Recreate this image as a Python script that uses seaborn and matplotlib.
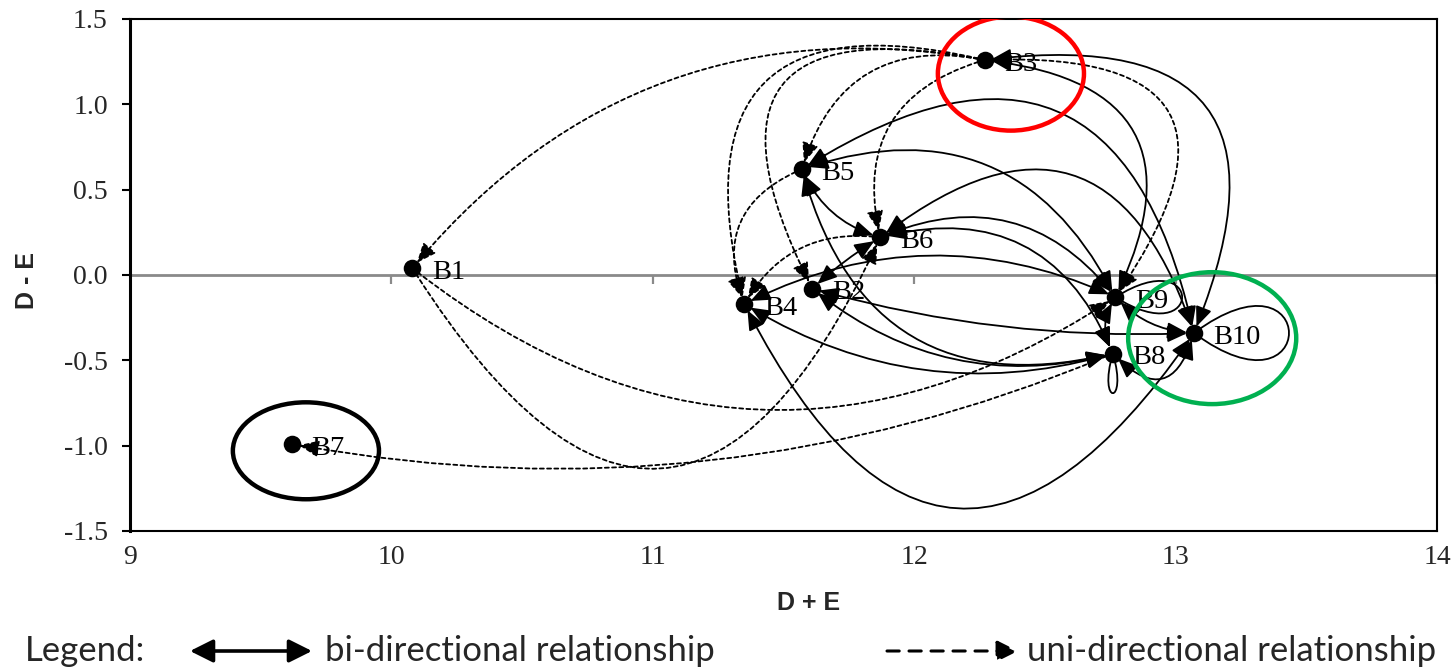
import matplotlib
matplotlib.use("Agg")
import numpy as np
import pandas as pd
import seaborn as sns
import matplotlib.pyplot as plt
from matplotlib.patches import FancyArrowPatch, Ellipse, PathPatch
from matplotlib.path import Path

# ---- data -------------------------------------------------------------
nodes = ["B1", "B2", "B3", "B4", "B5", "B6", "B7", "B8", "B9", "B10"]
d_plus_e = [10.08, 11.61, 12.27, 11.35, 11.57, 11.87, 9.62, 12.76, 12.77, 13.07]
d_minus_e = [0.04, -0.08, 1.26, -0.17, 0.62, 0.22, -0.99, -0.46, -0.13, -0.34]

# two-way influences (solid, heads at both ends)
bi_edges = [("B3", "B9"), ("B3", "B10"), ("B5", "B10"), ("B5", "B9"), ("B5", "B6"),
            ("B5", "B8"), ("B6", "B10"), ("B6", "B9"), ("B6", "B8"), ("B6", "B2"),
            ("B2", "B10"), ("B2", "B8"), ("B4", "B9"), ("B4", "B8"), ("B4", "B10"),
            ("B9", "B10"), ("B8", "B10"), ("B8", "B9")]
# one-way influences (dashed, source -> target)
uni_edges = [("B3", "B1"), ("B3", "B2"), ("B3", "B4"), ("B3", "B5"), ("B3", "B6"),
             ("B3", "B9"), ("B5", "B4"), ("B6", "B4"), ("B1", "B9"), ("B1", "B6"),
             ("B8", "B7")]
self_loops = ["B8", "B9", "B10"]

x_ticks = [9, 10, 11, 12, 13, 14]
y_ticks = [-1.5, -1.0, -0.5, 0.0, 0.5, 1.0, 1.5]

# ---- curvature of each connector ----------------------------------------
bi_rad = {("B3", "B9"): -0.7, ("B3", "B10"): -0.85, ("B5", "B10"): -0.71,
          ("B5", "B9"): -0.43, ("B5", "B6"): 0.23, ("B5", "B8"): 0.48,
          ("B6", "B10"): -0.7, ("B6", "B9"): -0.38, ("B6", "B8"): -0.43,
          ("B6", "B2"): 0.05, ("B2", "B10"): 0.08, ("B2", "B8"): 0.25,
          ("B4", "B9"): -0.24, ("B4", "B8"): 0.22, ("B4", "B10"): 0.84,
          ("B9", "B10"): 0.2, ("B8", "B10"): 0.85, ("B8", "B9"): -0.3}
uni_rad = {("B3", "B1"): 0.29, ("B3", "B2"): 1.02, ("B3", "B4"): 0.82,
           ("B3", "B5"): 0.45, ("B3", "B6"): 0.47, ("B3", "B9"): -1.0,
           ("B5", "B4"): 0.48, ("B6", "B4"): 0.33, ("B1", "B9"): 0.36,
           ("B1", "B6"): 0.92, ("B8", "B7"): -0.15}
# loop shape: (direction vector of the loop in data units, half-spread)
loop_shape = {"B10": ((0.485, 0.0), (0.0, 0.55)),
              "B9": ((0.34, 0.0), (0.0, 0.33)),
              "B8": ((0.0, -0.31), (0.06, 0.0))}

df = pd.DataFrame({"node": nodes, "x": d_plus_e, "y": d_minus_e})
pos = {n: (x, y) for n, x, y in zip(nodes, d_plus_e, d_minus_e)}

sns.set_theme(style="white")
plt.rcParams["font.family"] = ["Liberation Serif", "DejaVu Serif"]

fig = plt.figure(figsize=(14.54, 6.68), dpi=100)
W, H = 1454, 668
ax = fig.add_axes([130 / W, 1 - 531 / H, (1437 - 130) / W, (531 - 19) / H])
ax.set_xlim(9, 14)
ax.set_ylim(-1.5, 1.5)

# horizontal axis crossing at zero, with its own tick marks
ax.axhline(0, color="#8a8a8a", lw=2.0, zorder=0.5)
ax.vlines(x_ticks, -0.05, 0, color="#8a8a8a", lw=1.6, zorder=0.5)

solid_kw = dict(arrowstyle="<|-|>,head_length=1.2,head_width=0.5",
                mutation_scale=10, color="black", lw=1.3,
                shrinkA=5, shrinkB=5, zorder=2)
dash_kw = dict(arrowstyle="-|>,head_length=1.2,head_width=0.5",
               mutation_scale=10, color="black", lw=1.3,
               linestyle=(0, (2.2, 1.8)), shrinkA=5, shrinkB=5, zorder=2)

for a, b in bi_edges:
    ax.add_patch(FancyArrowPatch(pos[a], pos[b],
                                 connectionstyle=f"arc3,rad={bi_rad[(a, b)]}",
                                 **solid_kw))
for a, b in uni_edges:
    ax.add_patch(FancyArrowPatch(pos[a], pos[b],
                                 connectionstyle=f"arc3,rad={uni_rad[(a, b)]}",
                                 **dash_kw))

for n in self_loops:
    (dx, dy), (sx, sy) = loop_shape[n]
    x0, y0 = pos[n]
    verts = [(x0, y0),
             (x0 + dx + sx, y0 + dy + sy),
             (x0 + dx - sx, y0 + dy - sy),
             (x0, y0)]
    ax.add_patch(PathPatch(Path(verts, [Path.MOVETO, Path.CURVE4, Path.CURVE4, Path.CURVE4]),
                           fill=False, color="black", lw=1.3, zorder=2))

sns.scatterplot(data=df, x="x", y="y", color="black", s=160, edgecolor="black",
                linewidth=0, zorder=4, ax=ax, legend=False)
for n, x, y in zip(nodes, d_plus_e, d_minus_e):
    ax.annotate(n, (x, y), xytext=(14, -3), textcoords="offset points",
                ha="left", va="center", fontsize=20.5, color="black", zorder=5)

# highlighted nodes
for node, col, (ox, oy), (w, h) in [("B3", "#ff0000", (0.10, -0.08), (0.559, 0.668)),
                                     ("B10", "#00b050", (0.07, -0.03), (0.643, 0.773)),
                                     ("B7", "black", (0.053, -0.04), (0.559, 0.568))]:
    x0, y0 = pos[node]
    ax.add_patch(Ellipse((x0 + ox, y0 + oy), w, h, fill=False, ec=col, lw=3.2, zorder=6))

ax.set_xticks(x_ticks)
ax.set_yticks(y_ticks)
ax.set_xticklabels([str(t) for t in x_ticks])
ax.set_yticklabels([f"{t:.1f}" for t in y_ticks])
ax.tick_params(axis="x", length=0, pad=10, labelsize=20)
ax.tick_params(axis="y", length=6, width=1.5, direction="out", color="black",
               pad=10, labelsize=20, left=True)
for s in ax.spines.values():
    s.set_color("black")
    s.set_linewidth(1.5)
ax.spines["left"].set_linewidth(2.2)

ax.set_xlabel("D + E", fontsize=18, fontweight="bold", family="Liberation Sans")
ax.set_ylabel("D - E", fontsize=18, fontweight="bold", family="Liberation Sans")
ax.xaxis.set_label_coords(0.519, -0.117)
ax.yaxis.set_label_coords(-0.070, 0.49)

# legend row
ly = 1 - 651 / H
fig.text(25 / W, ly, "Legend:", family="Lato", fontsize=25, va="center", ha="left")
fig.patches.append(FancyArrowPatch((190 / W, ly), (312 / W, ly), transform=fig.transFigure,
                                   arrowstyle="<|-|>,head_length=1.0,head_width=0.5",
                                   mutation_scale=14, color="black", lw=2.6, shrinkA=0, shrinkB=0))
fig.text(325 / W, ly, "bi-directional relationship", family="Lato", fontsize=25,
         va="center", ha="left")
fig.patches.append(FancyArrowPatch((887 / W, ly), (1018 / W, ly), transform=fig.transFigure,
                                   arrowstyle="-|>,head_length=0.9,head_width=0.45",
                                   linestyle=(0, (4.0, 3.2)),
                                   mutation_scale=14, color="black", lw=2.2, shrinkA=0, shrinkB=0))
fig.text(1027 / W, ly, "uni-directional relationship", family="Lato", fontsize=25,
         va="center", ha="left")

fig.savefig("out.png", dpi=100)
